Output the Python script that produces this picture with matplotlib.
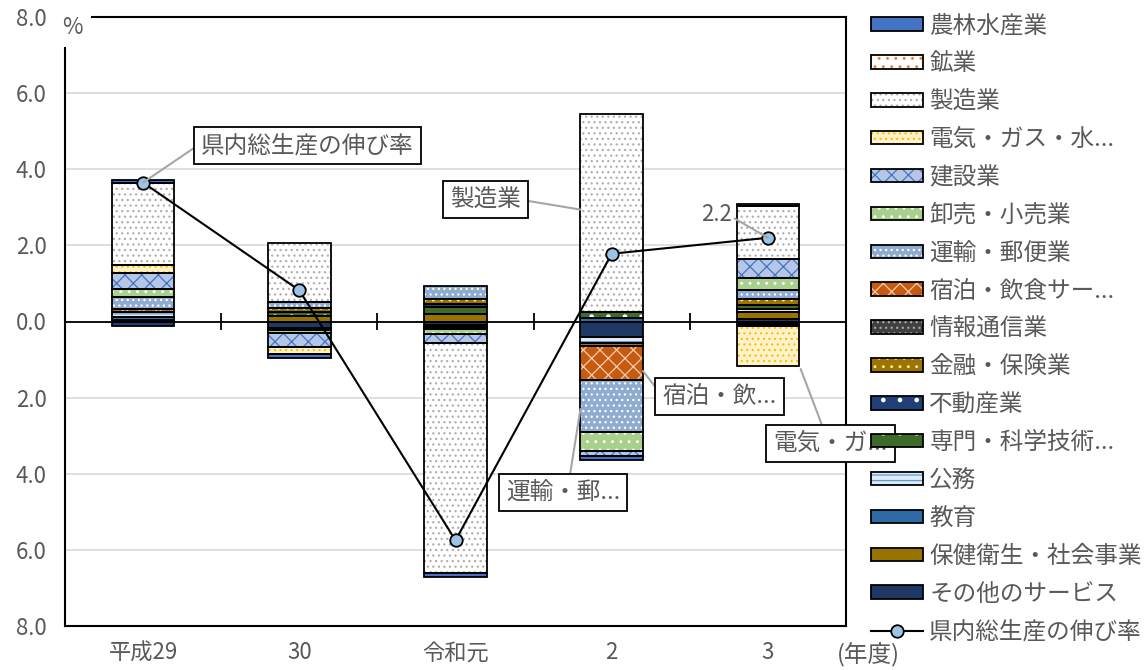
import matplotlib
matplotlib.use("Agg")
import matplotlib.pyplot as plt
from matplotlib.patches import Patch
from matplotlib.lines import Line2D
from matplotlib.legend_handler import HandlerTuple
from matplotlib.ticker import FuncFormatter

plt.rcParams["font.family"] = ["Noto Sans CJK JP", "DejaVu Sans"]
plt.rcParams["hatch.linewidth"] = 0.9

TEXT = "#595959"

years = ["平成29", "30", "令和元", "2", "3"]

# contribution to growth by industry (percentage points), legend order
sectors = [
    "農林水産業", "鉱業", "製造業", "電気・ガス・水...", "建設業", "卸売・小売業",
    "運輸・郵便業", "宿泊・飲食サー...", "情報通信業", "金融・保険業", "不動産業",
    "専門・科学技術...", "公務", "教育", "保健衛生・社会事業", "その他のサービス",
]
agri = [0.08, -0.10, -0.08, -0.10, 0.06]
mining = [0.0, 0.0, 0.0, 0.0, 0.0]
manuf = [2.15, 1.55, -6.05, 5.20, 1.40]
utility = [0.20, -0.20, 0.0, 0.0, -1.05]
construct = [0.42, -0.35, -0.25, -0.15, 0.50]
trade = [0.22, -0.08, -0.12, -0.50, 0.30]
transport = [0.32, 0.14, 0.32, -1.35, 0.25]
hotel = [0.08, 0.0, -0.06, -0.90, -0.05]
info = [0.0, 0.0, -0.06, 0.0, -0.07]
finance = [0.0, 0.12, 0.15, -0.07, 0.15]
realestate = [-0.12, 0.0, 0.08, 0.0, 0.0]
science = [0.0, 0.10, 0.17, 0.16, 0.12]
public = [0.13, -0.05, 0.0, -0.17, 0.08]
education = [0.06, 0.0, 0.0, 0.08, 0.0]
health = [0.0, 0.14, 0.20, 0.0, 0.18]
other = [0.05, -0.18, -0.08, -0.40, 0.06]

gdp_growth = [3.65, 0.82, -5.75, 1.78, 2.2]

values = [agri, mining, manuf, utility, construct, trade, transport, hotel,
          info, finance, realestate, science, public, education, health, other]

# (face colour, hatch, hatch colour)
styles = [
    ("#4472c4", None, None),
    ("white", "..", "#ed7d31"),
    ("white", "...", "#b0b0b0"),
    ("#fff2cc", "...", "#ffc000"),
    ("#b4c7e7", "xx", "#4472c4"),
    ("#a9d18e", "..", "white"),
    ("#8fabd0", "...", "white"),
    ("#c55a11", "xx", "#f8cbad"),
    ("#404040", "...", "#a6a6a6"),
    ("#9c7400", "..", "#ffe699"),
    ("#203f78", ".", "white"),
    ("#3f6b2a", ".", "white"),
    ("#deebf7", "---", "#5b9bd5"),
    ("#2e6aa6", None, None),
    ("#997300", None, None),
    ("#203864", None, None),
]

fig = plt.figure(figsize=(11.47, 6.70), dpi=100)
ax = fig.add_axes([65 / 1147, 44 / 670, 781 / 1147, 609 / 670])

x = list(range(len(years)))
width = 0.40

# Excel stacks the last series nearest to zero
pos_base = [0.0] * len(years)
neg_base = [0.0] * len(years)
for vals, (face, hatch, hcol) in reversed(list(zip(values, styles))):
    for i, v in enumerate(vals):
        if v == 0:
            continue
        if v > 0:
            b = pos_base[i]
            pos_base[i] += v
        else:
            b = neg_base[i]
            neg_base[i] += v
        ax.bar(x[i], v, bottom=b, width=width, color=face, hatch=hatch,
               edgecolor=hcol if hatch else face, linewidth=0, zorder=3)
        ax.bar(x[i], v, bottom=b, width=width, fill=False,
               edgecolor="black", linewidth=1.3, zorder=4)

ax.plot(x, gdp_growth, color="black", lw=1.5, marker="o", ms=9,
        mfc="#9dc3e6", mec="black", mew=1.3, zorder=6)

# axes, grid and the zero line with category separators
ax.set_xlim(-0.5, len(years) - 0.5)
ax.set_ylim(-8, 8)
ax.set_yticks(range(-8, 9, 2))
ax.yaxis.set_major_formatter(FuncFormatter(lambda v, p: f"{abs(v):.1f}"))
ax.grid(axis="y", color="#d9d9d9", lw=1.2, zorder=0)
ax.set_axisbelow(True)
ax.axhline(0, color="black", lw=1.3, zorder=2)
ax.vlines([i + 0.5 for i in range(len(years) - 1)], -0.22, 0.22,
          color="black", lw=1.3, zorder=2)
for s in ax.spines.values():
    s.set_color("black")
    s.set_linewidth(1.5)
ax.set_xticks(x)
ax.set_xticklabels(years)
ax.tick_params(axis="both", length=0, colors=TEXT, labelsize=16)
ax.tick_params(axis="x", pad=11)
ax.tick_params(axis="y", pad=13)

fig.text(72 / 1147, 1 - 27 / 670, "%", fontsize=16, color=TEXT,
         ha="center", va="center",
         bbox=dict(facecolor="white", edgecolor="none", pad=6), zorder=10)
fig.text(868 / 1147, 1 - 655 / 670, "(年度)", fontsize=17, color=TEXT,
         ha="center", va="center")

# data labels with leader lines
box = dict(boxstyle="square,pad=0.3", facecolor="white", edgecolor="black", lw=1.3)
lead = dict(arrowstyle="-", color="#a6a6a6", lw=1.5, shrinkA=0, shrinkB=0)


def callout(text, xy, xytext, relpos):
    ax.annotate(text, xy=xy, xytext=xytext, fontsize=17, color=TEXT,
                ha="center", va="center", bbox=box, zorder=8,
                annotation_clip=False,
                arrowprops=dict(lead, relpos=relpos))


callout("県内総生産の伸び率", (0, gdp_growth[0]), (1.05, 4.62), (0, 0.6))
callout("製造業", (2.80, 2.94), (2.19, 3.20), (1, 0.5))
callout("宿泊・飲...", (3.20, -1.30), (3.69, -1.96), (0, 0.5))
callout("運輸・郵...", (2.80, -2.30), (2.69, -4.49), (0.55, 1))
callout("電気・ガ...", (4.21, -1.25), (4.40, -3.21), (0.45, 1))
ax.annotate(f"{gdp_growth[4]:.1f}", xy=(4, gdp_growth[4]), xytext=(3.67, 2.81),
            fontsize=16, color=TEXT, ha="center", va="center", zorder=8,
            arrowprops=dict(lead, relpos=(1, 0.4)))

# legend with hatch colours kept separate from the black outline
handles = []
for face, hatch, hcol in styles:
    fill = Patch(facecolor=face, hatch=hatch,
                 edgecolor=hcol if hatch else face, linewidth=0)
    outline = Patch(facecolor="none", edgecolor="black", linewidth=1.3)
    handles.append((fill, outline))
handles.append(Line2D([], [], color="black", lw=1.5, marker="o", ms=9,
                      mfc="#9dc3e6", mec="black", mew=1.3))
labels = sectors + ["県内総生産の伸び率"]

leg = fig.legend(handles, labels, loc="upper left",
                 bbox_to_anchor=(862 / 1147, 1 - 5 / 670),
                 handler_map={tuple: HandlerTuple(ndivide=1, pad=0)},
                 frameon=False, fontsize=17, labelcolor=TEXT,
                 handlelength=2.2, handleheight=0.5, handletextpad=0.25,
                 labelspacing=0.63, borderaxespad=0)
leg.set_zorder(20)

fig.savefig("out.png", dpi=100)
